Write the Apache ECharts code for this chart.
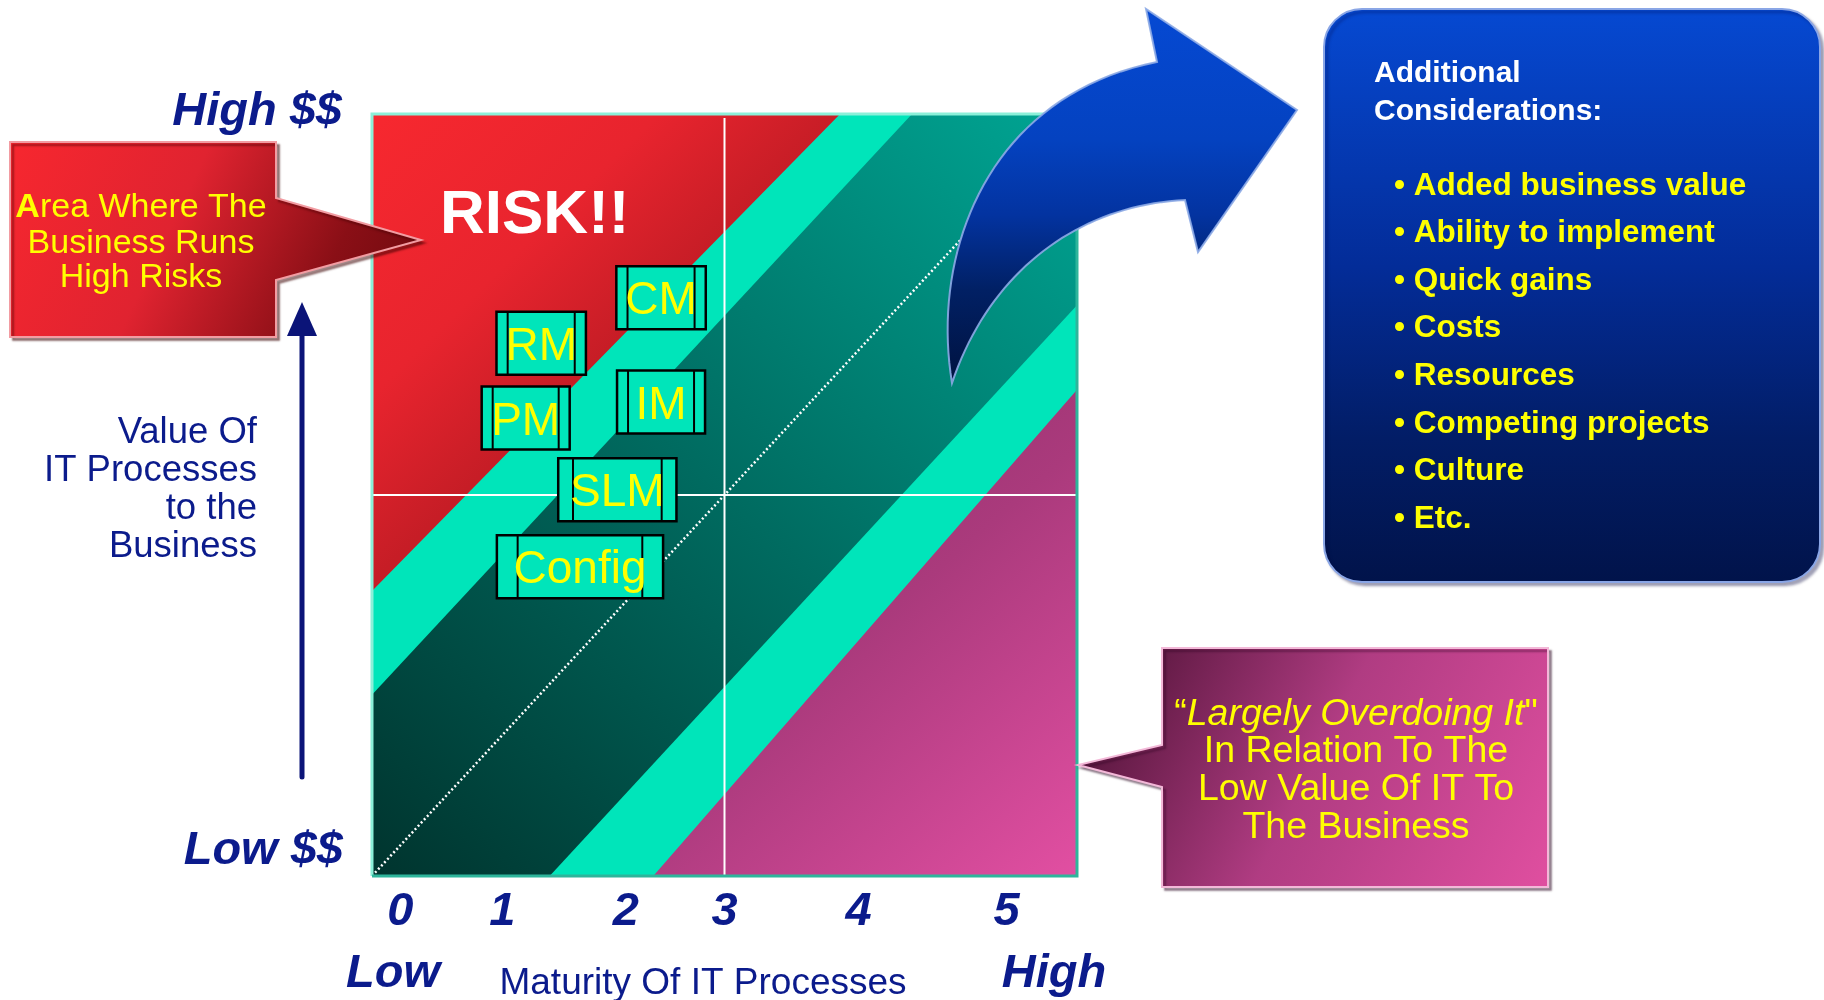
<!DOCTYPE html>
<html><head><meta charset="utf-8">
<script src="https://cdn.jsdelivr.net/npm/echarts@6/dist/echarts.min.js"></script>
<style>html,body{margin:0;padding:0;background:#fff}#c{width:1824px;height:1000px}</style>
</head><body><div id="c"></div>
<script>
const FONT = '"Liberation Sans", Arial, Helvetica, sans-serif';
const NAVY = '#0B1B8C';
const YELLOW = '#FFFF00';

// ---- data ----
const maturityTicks = ['0', '1', '2', '3', '4', '5'];
const maturityTickPos = [4, 18.5, 36, 50, 69, 90];          // position along maturity axis (% of range)
// zone boundaries, in % of axis range: [maturity, value]
const riskEdge = [[0, 37.4], [66.4, 100]];
const upperBandEdge = [[0, 23.8], [76.6, 100]];
const lowerBandEdge = [[25.2, 0], [100, 74.9]];
const overdoEdge = [[39.9, 0], [100, 63.8]];
const quadrantSplit = [50, 50];
const diagonal = [[0, 0], [100, 100]];
// IT processes
const processNames = ['CM', 'RM', 'PM', 'IM', 'SLM', 'Config'];
const processMaturity = [41.0, 24.0, 21.8, 41.0, 34.8, 29.5];
const processValue = [75.9, 69.9, 60.1, 62.2, 50.7, 40.6];
const considerations = ['Added business value', 'Ability to implement', 'Quick gains', 'Costs',
  'Resources', 'Competing projects', 'Culture', 'Etc.'];

// ---- helpers ----
const LG = (x0, y0, x1, y1, stops) => new echarts.graphic.LinearGradient(x0, y0, x1, y1,
  stops.map(s => ({offset: s[0], color: s[1]})));
const mctx = document.createElement('canvas').getContext('2d');
function textW(t, font) { mctx.font = font; return mctx.measureText(t).width; }
function cubic(p0, p1, p2, p3, n) {
  const out = [];
  for (let i = 0; i <= n; i++) {
    const t = i / n, u = 1 - t;
    out.push([u*u*u*p0[0] + 3*u*u*t*p1[0] + 3*u*t*t*p2[0] + t*t*t*p3[0],
              u*u*u*p0[1] + 3*u*u*t*p1[1] + 3*u*t*t*p2[1] + t*t*t*p3[1]]);
  }
  return out;
}
function zone(name, pts, fill, z) {
  return {type: 'custom', name, z, silent: true, clip: false, data: [0],
    renderItem(params, api) {
      return {type: 'polygon', shape: {points: pts.map(p => api.coord(p))}, style: {fill}};
    }};
}

const LIGHT = '#00E5BA';
const zones = [
  zone('bandBase', [[0, 0], [0, 100], [100, 100], [100, 0]], LIGHT, 1),
  zone('risk', [[0, 100], riskEdge[1], riskEdge[0]],
    LG(0, 0, 1, 1, [[0, '#F7282F'], [0.3, '#E8242E'], [0.5, '#C61D26'], [1, '#A0131B']]), 2),
  zone('core', [[0, 0], upperBandEdge[0], upperBandEdge[1], [100, 100], lowerBandEdge[1], lowerBandEdge[0]],
    LG(0, 1, 1, 0, [[0, '#00342E'], [0.5, '#006B60'], [1, '#00A593']]), 2),
  zone('overdo', [overdoEdge[0], overdoEdge[1], [100, 0]],
    LG(0, 0, 1, 1, [[0, '#8A2C66'], [0.5, '#AA3A7C'], [1, '#E24FA2']]), 2)
];

const boxFont = '46px ' + FONT;

// ---- arrow shape (decoration) ----
const T = [952, 383], A = [1157, 62], B = [1185, 200];
const arrowPts = [].concat(
  cubic(T, [930, 250], [990, 95], A, 40),
  [[1146, 9], [1297, 110], [1198, 252]],
  cubic(B, [1080, 205], [990, 270], T, 40)
);

const option = {
  animation: false,
  grid: {left: 372, top: 114, width: 705, height: 762},
  xAxis: {type: 'value', min: 0, max: 100,
    axisLine: {show: false}, axisTick: {show: false}, splitLine: {show: false},
    axisLabel: {customValues: maturityTickPos,
      formatter: v => { const i = maturityTickPos.indexOf(v); return i >= 0 ? maturityTicks[i] : ''; },
      fontSize: 47, fontWeight: 'bold', fontStyle: 'italic', fontFamily: FONT, color: NAVY, margin: 13}},
  yAxis: {type: 'value', min: 0, max: 100, show: false},
  series: zones.concat([
    {type: 'custom', name: 'quadrants', z: 3, silent: true, clip: false, data: [quadrantSplit],
      renderItem(params, api) {
        const x = api.value(0), y = api.value(1);
        const v0 = api.coord([x, 0]), v1 = api.coord([x, 100]);
        const h0 = api.coord([0, y]), h1 = api.coord([100, y]);
        return {type: 'group', children: [
          {type: 'line', shape: {x1: v0[0], y1: v0[1], x2: v1[0], y2: v1[1] + 4}, style: {stroke: '#fff', lineWidth: 2}},
          {type: 'line', shape: {x1: h0[0], y1: h0[1], x2: h1[0], y2: h1[1]}, style: {stroke: '#fff', lineWidth: 2}}
        ]};
      }},
    {type: 'line', name: 'diagonal', z: 4, silent: true, data: diagonal, symbol: 'none',
      lineStyle: {color: '#fff', width: 2.5, type: [2, 2.5]}},
    {type: 'custom', name: 'frame', z: 5, silent: true, clip: false, data: [0],
      renderItem(params, api) {
        const bl = api.coord([0, 0]), tl = api.coord([0, 100]), tr = api.coord([100, 100]), br = api.coord([100, 0]);
        return {type: 'group', children: [
          {type: 'polyline', shape: {points: [bl, tl, tr]}, style: {stroke: '#8CF0D9', lineWidth: 3, fill: null}},
          {type: 'polyline', shape: {points: [bl, br, tr]}, style: {stroke: '#2EB59B', lineWidth: 3, fill: null}}
        ]};
      }},
    {type: 'custom', name: 'processes', z: 6, silent: true, clip: false,
      data: processNames.map((n, i) => [processMaturity[i], processValue[i]]),
      renderItem(params, api) {
        const c = api.coord([api.value(0), api.value(1)]);
        const name = processNames[params.dataIndex];
        const w = Math.max(88, textW(name, boxFont) * 1.25), h = 63;
        const x = c[0] - w / 2, y = c[1] - h / 2, inset = w * 0.125;
        return {type: 'group', children: [
          {type: 'rect', shape: {x, y, width: w, height: h}, style: {fill: LIGHT, stroke: '#000', lineWidth: 2.5}},
          {type: 'line', shape: {x1: x + inset, y1: y, x2: x + inset, y2: y + h}, style: {stroke: '#000', lineWidth: 2}},
          {type: 'line', shape: {x1: x + w - inset, y1: y, x2: x + w - inset, y2: y + h}, style: {stroke: '#000', lineWidth: 2}},
          {type: 'text', style: {text: name, x: c[0], y: c[1] + 4, align: 'center', verticalAlign: 'middle',
            fill: YELLOW, font: boxFont}}
        ]};
      }}
  ]),
  graphic: [
    // RISK!! label
    {type: 'text', z: 50, x: 440, y: 216, style: {text: 'RISK!!', fill: '#fff', fontSize: 62, fontWeight: 'bold',
      fontFamily: FONT, align: 'left', verticalAlign: 'middle'}},
    // axis end labels
    {type: 'text', z: 50, x: 342, y: 112, style: {text: 'High $$', fill: NAVY, fontSize: 47, fontWeight: 'bold',
      fontStyle: 'italic', fontFamily: FONT, align: 'right', verticalAlign: 'middle'}},
    {type: 'text', z: 50, x: 343, y: 851, style: {text: 'Low $$', fill: NAVY, fontSize: 47, fontWeight: 'bold',
      fontStyle: 'italic', fontFamily: FONT, align: 'right', verticalAlign: 'middle'}},
    {type: 'text', z: 50, x: 393, y: 974, style: {text: 'Low', fill: NAVY, fontSize: 47, fontWeight: 'bold',
      fontStyle: 'italic', fontFamily: FONT, align: 'center', verticalAlign: 'middle'}},
    {type: 'text', z: 50, x: 1054, y: 974, style: {text: 'High', fill: NAVY, fontSize: 47, fontWeight: 'bold',
      fontStyle: 'italic', fontFamily: FONT, align: 'center', verticalAlign: 'middle'}},
    {type: 'text', z: 50, x: 703, y: 984, style: {text: 'Maturity Of IT Processes', fill: NAVY, fontSize: 37,
      fontFamily: FONT, align: 'center', verticalAlign: 'middle'}},
    {type: 'text', z: 50, x: 257, y: 490, style: {text: 'Value Of\nIT Processes\nto the\nBusiness', fill: NAVY,
      fontSize: 36.5, lineHeight: 38, fontFamily: FONT, align: 'right', verticalAlign: 'middle'}},
    // value arrow
    {type: 'line', z: 50, shape: {x1: 302, y1: 777, x2: 302, y2: 330}, style: {stroke: '#0B1478', lineWidth: 5, lineCap: 'round'}},
    {type: 'polygon', z: 50, shape: {points: [[302, 302], [287, 336], [317, 336]]}, style: {fill: '#0B1478'}},
    // left callout
    {type: 'polygon', z: 60, shape: {points: [[10, 142], [276, 142], [276, 198], [421, 240], [276, 280], [276, 337], [10, 337]]},
      style: {fill: LG(0, 0, 1, 1, [[0, '#F7272F'], [0.4, '#E02330'], [0.75, '#8A0F16'], [1, '#6A080D']]),
        stroke: '#F29CA2', lineWidth: 2, shadowColor: 'rgba(60,0,0,0.45)', shadowOffsetX: 3, shadowOffsetY: 3, shadowBlur: 2}},
    {type: 'text', z: 61, x: 141, y: 208, style: {text: '{b|A}rea Where The', fill: YELLOW, fontSize: 34, fontFamily: FONT,
      align: 'center', verticalAlign: 'middle', rich: {b: {fontWeight: 'bold', fontSize: 34, fontFamily: FONT, fill: YELLOW}}}},
    {type: 'text', z: 61, x: 141, y: 244, style: {text: 'Business Runs', fill: YELLOW, fontSize: 34, fontFamily: FONT,
      align: 'center', verticalAlign: 'middle'}},
    {type: 'text', z: 61, x: 141, y: 278, style: {text: 'High Risks', fill: YELLOW, fontSize: 34, fontFamily: FONT,
      align: 'center', verticalAlign: 'middle'}},
    // magenta callout
    {type: 'polygon', z: 60, shape: {points: [[1162, 648], [1548, 648], [1548, 887], [1162, 887], [1162, 787], [1078, 765], [1162, 745]]},
      style: {fill: LG(0, 0, 1, 1, [[0, '#4F1238'], [0.12, '#5E1942'], [0.5, '#B03C82'], [1, '#E04FA0']]),
        stroke: '#F3B8D8', lineWidth: 2, shadowColor: 'rgba(40,0,30,0.4)', shadowOffsetX: 3, shadowOffsetY: 3, shadowBlur: 2}},
    {type: 'text', z: 61, x: 1356, y: 715, style: {text: '“{i|Largely Overdoing It}"', fill: YELLOW, fontSize: 37.5, fontFamily: FONT,
      align: 'center', verticalAlign: 'middle', rich: {i: {fontStyle: 'italic', fontSize: 37.5, fontFamily: FONT, fill: YELLOW}}}},
    {type: 'text', z: 61, x: 1356, y: 752, style: {text: 'In Relation To The', fill: YELLOW, fontSize: 37.5, fontFamily: FONT,
      align: 'center', verticalAlign: 'middle'}},
    {type: 'text', z: 61, x: 1356, y: 790, style: {text: 'Low Value Of IT To', fill: YELLOW, fontSize: 37.5, fontFamily: FONT,
      align: 'center', verticalAlign: 'middle'}},
    {type: 'text', z: 61, x: 1356, y: 828, style: {text: 'The Business', fill: YELLOW, fontSize: 37.5, fontFamily: FONT,
      align: 'center', verticalAlign: 'middle'}},
    // big curved arrow
    {type: 'polygon', z: 70, shape: {points: arrowPts},
      style: {fill: LG(0, 0, 0, 1, [[0, '#0549D3'], [0.35, '#0442C0'], [0.55, '#0333A0'], [0.75, '#012064'], [1, '#00123F']]),
        stroke: 'rgba(140,170,230,0.9)', lineWidth: 2}},
    // considerations box
    {type: 'rect', z: 60, shape: {x: 1324, y: 9, width: 496, height: 573, r: 38},
      style: {fill: LG(0, 0, 0, 1, [[0, '#0649D2'], [0.45, '#032C98'], [0.75, '#021D66'], [1, '#01134A']]),
        stroke: '#8AA6E6', lineWidth: 2, shadowColor: 'rgba(0,0,60,0.35)', shadowOffsetX: 3, shadowOffsetY: 3, shadowBlur: 3}},
    {type: 'text', z: 61, x: 1374, y: 93, style: {text: 'Additional\nConsiderations:', fill: '#fff', fontSize: 30,
      fontWeight: 'bold', lineHeight: 38, fontFamily: FONT, align: 'left', verticalAlign: 'middle'}}
  ].concat(considerations.map((t, i) => ({type: 'text', z: 61, x: 1394, y: 186 + 47.6 * i,
      style: {text: '• ' + t, fill: YELLOW, fontSize: 31.5, fontWeight: 'bold', fontFamily: FONT,
        align: 'left', verticalAlign: 'middle'}})))
};

const chart = echarts.init(document.getElementById('c'), null, {renderer: 'canvas'});
chart.setOption(option);
</script>
</body></html>
